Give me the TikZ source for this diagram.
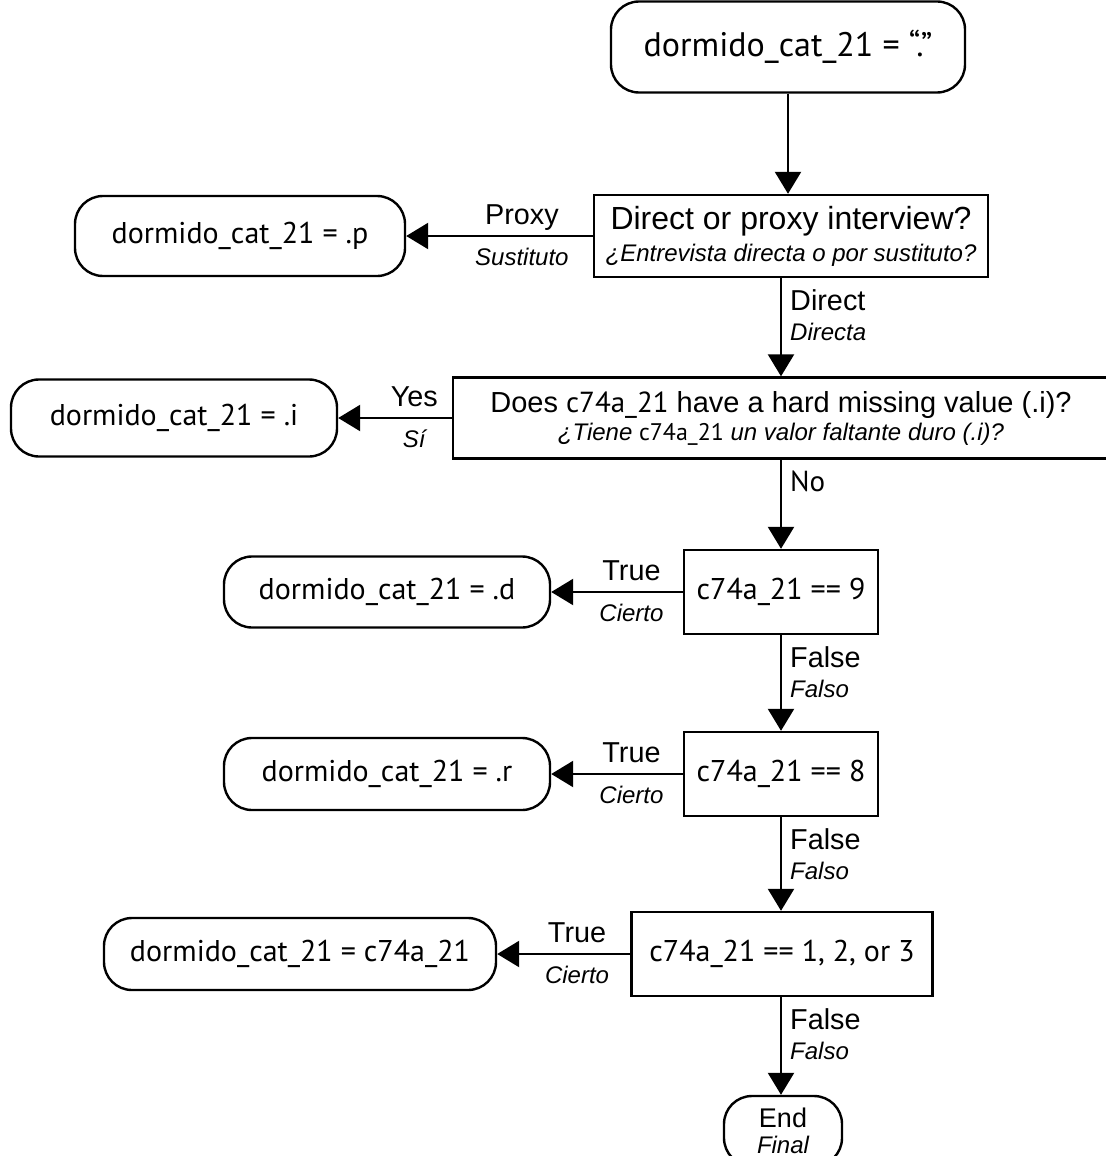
\documentclass[tikz,border=0pt]{standalone}
\usepackage{fontspec}
\setmainfont{Liberation Sans}
\newfontfamily\myr{PT Sans}
\usetikzlibrary{calc,shapes,positioning}
\usetikzlibrary{arrows.meta}
\tikzset{>={Triangle[width=13pt,length=11pt]}}
\newcommand{\mainsz}{\fontsize{16}{18}\selectfont}
\newcommand{\labsz}{\fontsize{14.4}{16}\selectfont}
\newcommand{\spsz}{\fontsize{12}{14}\selectfont\itshape}

\begin{document}
\begin{tikzpicture}[x=0.5pt,y=-0.5pt,line width=1.2pt]
        \tikzstyle{term} = [draw=black, rounded corners=14pt, inner sep=0pt, align=center, font=\myr\fontsize{15}{17}\selectfont]
        \tikzstyle{qbox} = [draw=black, rectangle, inner sep=0pt, align=center]
        \tikzstyle{yes} = [above=5pt, inner sep=0pt, text depth=0pt, font=\labsz]
        \tikzstyle{si} = [below=5.5pt, inner sep=0pt, text height=8.6pt, font=\spsz]
        \tikzstyle{down} = [anchor=north west, align=left, inner sep=1pt, xshift=3pt, yshift=-4pt]
        \useasboundingbox (0,0) rectangle (1106,1156);

        \node[term, minimum width=177pt, minimum height=45.5pt, font=\myr\fontsize{17}{19}\selectfont] (top) at (788,47) {dormido\_cat\_21 = “.”};
        \node[qbox, minimum width=197pt, minimum height=41pt] (q1) at (791,236)
          {{\mainsz Direct or proxy interview?}\\[3pt]{\spsz ¿Entrevista directa o por sustituto?}};
        \node[term, minimum width=165pt, minimum height=40pt] (pres) at (240,236) {dormido\_cat\_21 = .p};

        \node[qbox, minimum width=328pt, minimum height=40.5pt] (q2) at (781,418)
          {{\fontsize{14.5}{16}\selectfont Does {\myr c74a\_21} have a hard missing value (.i)?}\\[2pt]{\spsz ¿Tiene {\upshape\myr c74a\_21} un valor faltante duro (.i)?}};
        \node[term, minimum width=163pt, minimum height=38.5pt] (ires) at (174,418) {dormido\_cat\_21 = .i};

        \node[qbox, minimum width=97pt, minimum height=42pt, font=\myr\fontsize{15}{17}\selectfont] (q3) at (781,592) {c74a\_21 == 9};
        \node[term, minimum width=163pt, minimum height=35.5pt] (dres) at (387,592) {dormido\_cat\_21 = .d};

        \node[qbox, minimum width=97pt, minimum height=42pt, font=\myr\fontsize{15}{17}\selectfont] (q4) at (781,774) {c74a\_21 == 8};
        \node[term, minimum width=163pt, minimum height=36pt] (rres) at (387,774) {dormido\_cat\_21 = .r};

        \node[qbox, minimum width=150.5pt, minimum height=42pt, font=\myr\fontsize{15}{17}\selectfont] (q5) at (782,954) {c74a\_21 == 1, 2, or 3};
        \node[term, minimum width=196pt, minimum height=36pt] (vres) at (300,954) {dormido\_cat\_21 = c74a\_21};

        \node[term, minimum width=59pt, minimum height=35pt, font=\fontsize{13.5}{15}\selectfont] (fin) at (783,1131)
          {\raisebox{2pt}{End}\\[-4pt]{\fontsize{12}{13}\selectfont\itshape Final}};

        % main line
        \draw[->] (top.south) -- (top.south |- q1.north);
        \draw[->] (q1.south -| q3) -- (q2.north -| q3)
          node[down, pos=0] {{\labsz Direct}\\[3pt]{\spsz Directa}};
        \draw[->] (q2.south -| q3) -- (q3.north)
          node[down, pos=0, font=\myr\fontsize{14.5}{17}\selectfont] {No};
        \draw[->] (q3.south) -- (q4.north)
          node[down, pos=0] {{\labsz False}\\[3pt]{\spsz Falso}};
        \draw[->] (q4.south) -- (q5.north -| q4)
          node[down, pos=0] {{\labsz False}\\[3pt]{\spsz Falso}};
        \draw[->] (q5.south -| q4) -- (fin.north -| q4)
          node[down, pos=0] {{\labsz False}\\[3pt]{\spsz Falso}};

        % side exits
        \draw[->] (q1.west) -- (pres.east)
          node[yes, pos=0.38] {Proxy} node[si, pos=0.38] {Sustituto};
        \draw[->] (q2.west) -- (ires.east)
          node[yes, pos=0.33] {Yes} node[si, pos=0.33] {Sí};
        \draw[->] (q3.west) -- (dres.east)
          node[yes, pos=0.39] {True} node[si, pos=0.39] {Cierto};
        \draw[->] (q4.west) -- (rres.east)
          node[yes, pos=0.39] {True} node[si, pos=0.39] {Cierto};
        \draw[->] (q5.west) -- (vres.east)
          node[yes, pos=0.40] {True} node[si, pos=0.40] {Cierto};
      \end{tikzpicture}
\end{document}
